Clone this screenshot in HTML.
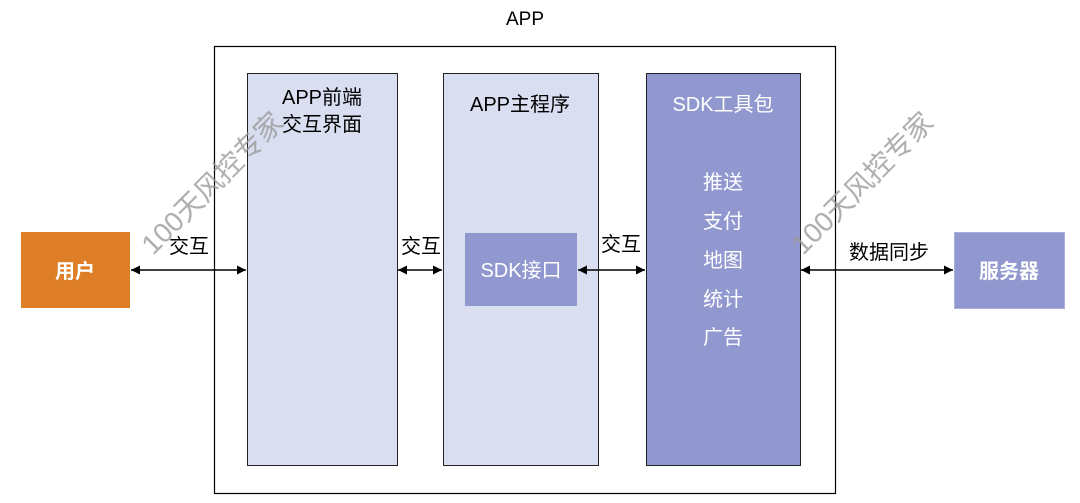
<!DOCTYPE html>
<html><head><meta charset="utf-8"><style>
body{margin:0;background:#fff;}
svg{display:block;font-family:"Liberation Sans","Noto Sans CJK SC",sans-serif;}
</style></head><body>
<svg width="1080" height="503" viewBox="0 0 1080 503">
<defs>
<marker id="a" viewBox="0 0 10 10" refX="10" refY="5" markerWidth="9" markerHeight="9" orient="auto-start-reverse" markerUnits="userSpaceOnUse"><path d="M0,0 L10,5 L0,10 z" fill="#000"/></marker>
</defs>
<text x="525" y="25" font-size="19" text-anchor="middle">APP</text>
<rect x="214.5" y="46.5" width="621" height="447" fill="none" stroke="#000" stroke-width="1.2"/>
<rect x="247.5" y="73.5" width="150" height="392" fill="#D9DEF0" stroke="#222" stroke-width="1"/>
<rect x="443.5" y="73.5" width="155" height="392" fill="#D9DEF0" stroke="#222" stroke-width="1"/>
<rect x="646.5" y="73.5" width="154" height="392" fill="#9098CF" stroke="#222" stroke-width="1"/>
<rect x="465" y="233" width="112" height="73" fill="#9098CF"/>
<rect x="21" y="232" width="109" height="76" fill="#DE7E27"/>
<rect x="954.5" y="232.5" width="110" height="76" fill="#9098CF" stroke="#AAB0DD" stroke-width="1"/>
<g font-size="20">
<text x="322" y="104" text-anchor="middle">APP前端</text>
<text x="322" y="131" text-anchor="middle">交互界面</text>
<text x="520" y="111" text-anchor="middle">APP主程序</text>
<text x="723" y="111" text-anchor="middle" fill="#fff">SDK工具包</text>
<text x="723" y="189" text-anchor="middle" fill="#fff">推送</text>
<text x="723" y="228" text-anchor="middle" fill="#fff">支付</text>
<text x="723" y="267" text-anchor="middle" fill="#fff">地图</text>
<text x="723" y="306" text-anchor="middle" fill="#fff">统计</text>
<text x="723" y="344" text-anchor="middle" fill="#fff">广告</text>
<text x="521" y="277" text-anchor="middle" fill="#fff">SDK接口</text>
<text x="75" y="278" text-anchor="middle" fill="#fff" font-weight="bold">用户</text>
<text x="1009" y="278" text-anchor="middle" fill="#fff" font-weight="bold">服务器</text>
<text x="189" y="253" text-anchor="middle">交互</text>
<text x="421" y="253" text-anchor="middle">交互</text>
<text x="621" y="251" text-anchor="middle">交互</text>
<text x="889" y="259" text-anchor="middle">数据同步</text>
</g>
<g stroke="#000" stroke-width="1.5" marker-start="url(#a)" marker-end="url(#a)">
<line x1="131" y1="270" x2="246" y2="270"/>
<line x1="398" y1="270" x2="442" y2="270"/>
<line x1="578" y1="270" x2="645" y2="270"/>
<line x1="801" y1="270" x2="953" y2="270"/>
</g>
<g font-size="28" fill="#999" opacity="0.8">
<text transform="translate(153,256) rotate(-45)">100天风控专家</text>
<text transform="translate(803,256) rotate(-45)">100天风控专家</text>
</g>
</svg>
</body></html>
